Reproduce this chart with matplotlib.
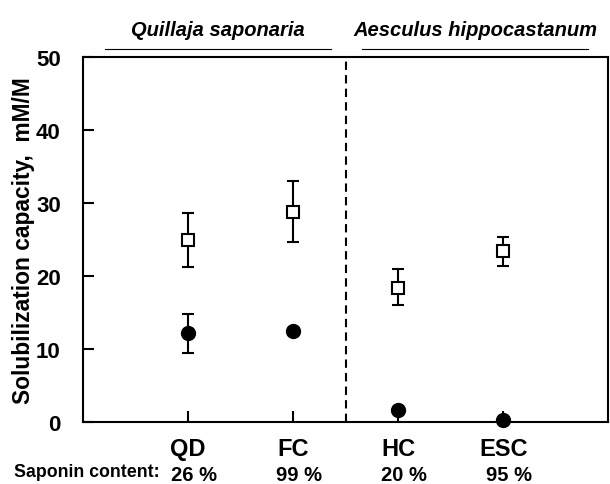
import matplotlib.pyplot as plt
import matplotlib.transforms as mtransforms

plt.rcParams['font.family'] = ['Liberation Sans', 'DejaVu Sans']
plt.rcParams['font.weight'] = 'bold'

# data
categories = ['QD', 'FC', 'HC', 'ESC']
saponin_content = ['26 %', '99 %', '20 %', '95 %']
open_values = [25.0, 28.8, 18.4, 23.5]
open_err_low = [3.7, 4.1, 2.4, 2.1]
open_err_high = [3.7, 4.2, 2.5, 1.9]
filled_values = [12.2, 12.4, 1.6, 0.3]
filled_err_low = [2.8, 0.0, 0.0, 0.0]
filled_err_high = [2.6, 0.0, 0.0, 0.0]
species = ['Quillaja saponaria', 'Aesculus hippocastanum']

x = [1, 2, 3, 4]

fig = plt.figure(figsize=(6.1, 4.85), dpi=100)
ax = fig.add_axes([0.136, 0.128, 0.861, 0.752])

ax.errorbar(x, open_values, yerr=[open_err_low, open_err_high], fmt='s',
            color='black', markerfacecolor='white', markeredgecolor='black',
            markersize=8, markeredgewidth=1.5, elinewidth=1.5, capsize=4.5,
            capthick=1.5, zorder=3)

# filled circles: only draw error bars where there is a spread
ax.plot(x, filled_values, 'o', color='black', markersize=10, zorder=3,
        clip_on=False)
with_err = [i for i in range(len(x)) if filled_err_low[i] or filled_err_high[i]]
ax.errorbar([x[i] for i in with_err], [filled_values[i] for i in with_err],
            yerr=[[filled_err_low[i] for i in with_err],
                  [filled_err_high[i] for i in with_err]],
            fmt='none', ecolor='black', elinewidth=1.5, capsize=4.5,
            capthick=1.5, zorder=3)

ax.axvline(2.5, color='black', linestyle=(0, (4, 2.5)), linewidth=1.5)

ax.set_xlim(0, 5)
ax.set_ylim(0, 50)
ax.set_yticks([0, 10, 20, 30, 40, 50])
ax.set_xticks(x)
ax.set_xticklabels(categories, fontsize=17, fontweight='bold')
ax.tick_params(axis='both', direction='in', length=8, width=1.5)
ax.tick_params(axis='y', labelsize=16, pad=16)
ax.tick_params(axis='x', pad=11)
for lbl in ax.get_yticklabels():
    lbl.set_fontweight('bold')
for sp in ax.spines.values():
    sp.set_linewidth(1.5)

ax.set_ylabel('Solubilization capacity,  mM/M', fontsize=16.4, fontweight='bold')
ax.yaxis.set_label_coords(-0.092, 0.5)

# saponin content row under the category labels
trans = mtransforms.blended_transform_factory(ax.transData, ax.transAxes)
for xi, pct in zip(x, saponin_content):
    ax.text(xi + 0.06, -0.143, pct, transform=trans, ha='center', va='center',
            fontsize=14.5, fontweight='bold')
fig.text(0.023, 0.025, 'Saponin content:', ha='left', va='center',
         fontsize=12.8, fontweight='bold')

# species headers with rule underneath
for (xc, x0, x1), name in zip([(0.357, 0.172, 0.543), (0.780, 0.593, 0.964)], species):
    fig.text(xc, 0.938, name, ha='center', va='center', fontsize=14.5,
             fontweight='bold', style='italic')
    fig.add_artist(plt.Line2D([x0, x1], [0.897, 0.897], color='black',
                              linewidth=0.8, transform=fig.transFigure))

fig.savefig('out.png', dpi=100)
